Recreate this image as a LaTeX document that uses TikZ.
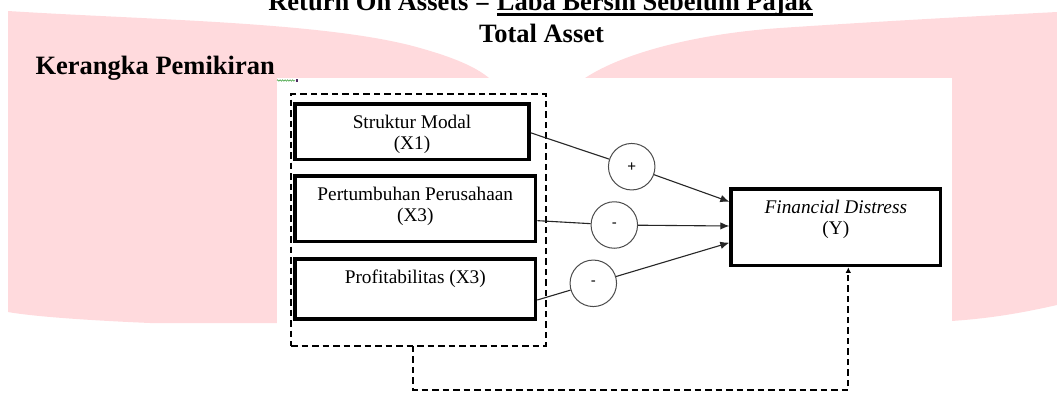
\documentclass[tikz,border=0pt]{standalone}
\usepackage{fontspec}
\setmainfont{Liberation Serif}
\setsansfont{Liberation Sans}
\usetikzlibrary{arrows.meta, positioning, decorations.pathmorphing}

\definecolor{wmpink}{RGB}{255,218,221}
\definecolor{squiggle}{RGB}{60,160,60}
\definecolor{caretmark}{RGB}{80,40,100}
\newcommand{\kpheadfont}{\fontsize{26.5}{30}\selectfont\bfseries}
\newsavebox{\kplinebox}
\newcommand{\kpuline}[1]{\sbox{\kplinebox}{#1}\rlap{\rule[-5.2pt]{\wd\kplinebox}{2.8pt}}\usebox{\kplinebox}}

\begin{document}
\begin{tikzpicture}[
            x=1pt, y=-1pt,                     % pixel-like units, y downwards
            varbox/.style={
                rectangle,
                draw=black,
                line width=3.8pt,
                fill=white,
                inner sep=0pt
            },
            boxtext/.style={
                anchor=north,
                yshift=-12.8pt,
                inner sep=0pt,
                align=center,
                font=\fontsize{19.3}{21.3}\selectfont
            },
            sign/.style={
                circle,
                draw=black!70,
                line width=1pt,
                fill=white,
                minimum size=46.5pt,
                inner sep=0pt,
                font=\sffamily\fontsize{15}{15}\selectfont
            },
            link/.style={
                draw=black!85,
                line width=1.1pt
            },
            linkarrow/.style={
                link,
                -{Latex[length=9pt, width=7.5pt]}
            },
            dashgroup/.style={
                rectangle,
                draw=black,
                line width=1.8pt,
                dash pattern=on 6.5pt off 4pt,
                outer sep=0pt,
                inner sep=0pt
            },
            feedback/.style={
                draw=black,
                line width=1.8pt,
                dash pattern=on 6.5pt off 4pt,
                -{Latex[length=5.5pt, width=5.5pt]}
            }
        ]
            \useasboundingbox (0,0) rectangle (1057,394);

            % --- FONDO ---
            \fill[wmpink] (8,11) .. controls (150,20) and (330,22) .. (420,48)
                .. controls (470,62) and (490,75) .. (500,90) -- (570,90)
                .. controls (600,60) and (680,35) .. (780,28)
                .. controls (900,20) and (1000,15) .. (1057,12) -- (1057,305)
                .. controls (1000,318) and (960,322) .. (900,323) -- (150,323)
                .. controls (80,320) and (30,316) .. (8,312) -- cycle;
            \fill[white] (277,78) rectangle (952,394);

            % --- TITULOS ---
            \node[anchor=base, font=\kpheadfont] (roa) at (540.5,10.5) {Return On Assets = \kpuline{Laba Bersih Sebelum Pajak}};
            \node[anchor=base, font=\kpheadfont] (asset) at (541.5,42) {Total Asset};
            \node[anchor=base west, font=\kpheadfont] (kerangka) at (32,74) {Kerangka Pemikiran};
            \draw[squiggle, line width=0.5pt, decorate, decoration={zigzag, amplitude=0.8pt, segment length=2.5pt}] (277,80.5) -- (295,80.5);
            \fill[caretmark] (295.5,79) rectangle (297.5,82);

            % --- VARIABEL ---
            \node[dashgroup, minimum width=254.8pt, minimum height=251.6pt] (grp) at (418.4,220) {};

            \node[varbox, minimum width=233.6pt, minimum height=55.2pt,
                label={[boxtext]north:{Struktur Modal\\(X1)}}] (b1) at (412,131.8) {};
            \node[varbox, minimum width=240.2pt, minimum height=65.5pt,
                below=12.7pt of b1.south west, anchor=north west,
                label={[boxtext]north:{Pertumbuhan Perusahaan\\(X3)}}] (b2) {};
            \node[varbox, minimum width=240.2pt, minimum height=59.6pt,
                below=14pt of b2.south west, anchor=north west,
                label={[boxtext]north:{Profitabilitas (X3)}}] (b3) {};

            \node[varbox, minimum width=209.2pt, minimum height=76.2pt,
                label={[boxtext, yshift=0.3pt]north:{\textit{Financial Distress}\\(Y)}}] (fd) at (835.8,227.3) {};

            \node[sign] (c1) at (631.7,166.7) {+};
            \node[sign] (c2) at (614.3,225) {-};
            \node[sign] (c3) at (593.3,283.3) {-};

            % --- ENLACES ---
            \path[link] ([yshift=-1pt]b1.east) -- (c1);
            \path[linkarrow] (c1) -- ([yshift=25.6pt]fd.west);
            \path[link] ([yshift=-12pt]b2.east) -- (c2);
            \path[linkarrow] (c2) -- ([yshift=1.3pt]fd.west);
            \path[link] ([yshift=-11pt]b3.east) -- (c3);
            \path[linkarrow] (c3) -- ([yshift=-15.4pt]fd.west);

            \coordinate (fbturn) at (848.3,390);
            \path[feedback] ([xshift=-5.1pt]grp.south) |- (fbturn) -- ([xshift=12.5pt]fd.south);
        \end{tikzpicture}
\end{document}
